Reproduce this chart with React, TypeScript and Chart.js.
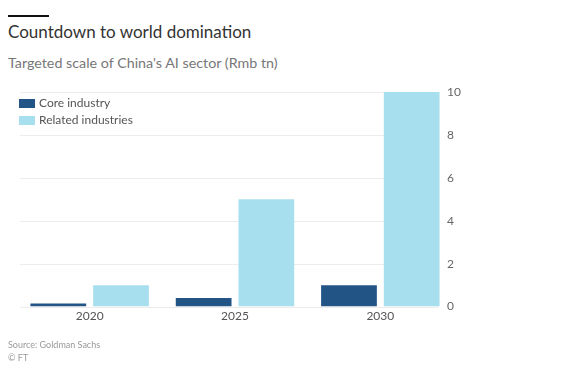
import React, { useEffect, useRef } from "react";
import { Chart, registerables } from "chart.js";

Chart.register(...registerables);

const categories = ["2020", "2025", "2030"];
const coreIndustry = [0.15, 0.4, 1.0];
const relatedIndustries = [1.0, 5.0, 10.0];
const seriesNames = ["Core industry", "Related industries"];
const yTicks = [0, 2, 4, 6, 8, 10];

const FONT = "Lato, 'Open Sans', sans-serif";
const COLORS = ["#225486", "#a8dfee"];

const customPlugin = {
  id: "ftExtras",
  beforeDatasetsDraw(chart: any) {
    const { ctx, chartArea, scales } = chart;
    const y = scales.y;
    ctx.save();
    ctx.strokeStyle = "#ececec";
    ctx.lineWidth = 1;
    for (const v of yTicks) {
      const py = Math.round(y.getPixelForValue(v)) + 0.5;
      ctx.beginPath();
      ctx.moveTo(chartArea.left + 3, py);
      ctx.lineTo(chartArea.right - 15, py);
      ctx.stroke();
    }
    ctx.fillStyle = "#666";
    ctx.font = `12px ${FONT}`;
    ctx.textBaseline = "middle";
    ctx.textAlign = "left";
    for (const v of yTicks) {
      ctx.fillText(String(v), chartArea.right - 6, y.getPixelForValue(v));
    }
    ctx.restore();
  },
  afterDatasetsDraw(chart: any) {
    const { ctx, chartArea } = chart;
    ctx.save();
    ctx.font = `12px ${FONT}`;
    ctx.textBaseline = "middle";
    chart.data.datasets.forEach((ds: any, i: number) => {
      const bx = chartArea.left + 2;
      const by = chartArea.top + 7 + i * 17;
      ctx.fillStyle = ds.backgroundColor;
      ctx.fillRect(bx, by, 16, 9);
      ctx.fillStyle = "#555";
      ctx.fillText(ds.label, bx + 20, by + 4.5);
    });
    ctx.restore();
  },
};

export default function App() {
  const ref = useRef<HTMLCanvasElement | null>(null);

  useEffect(() => {
    if (!ref.current) return;
    const chart = new Chart(ref.current, {
      type: "bar",
      data: {
        labels: categories,
        datasets: [
          {
            label: seriesNames[0],
            data: coreIndustry,
            backgroundColor: COLORS[0],
            borderWidth: 0,
          },
          {
            label: seriesNames[1],
            data: relatedIndustries,
            backgroundColor: COLORS[1],
            borderWidth: 0,
          },
        ],
      },
      options: {
        animation: false,
        responsive: false,
        maintainAspectRatio: false,
        layout: { padding: { left: 17, top: 92, right: 116, bottom: 48 } },
        datasets: {
          bar: { categoryPercentage: 0.863, barPercentage: 0.889 },
        },
        plugins: {
          tooltip: { enabled: false },
          legend: { display: false },
        },
        scales: {
          x: {
            offset: true,
            grid: { display: false, drawTicks: false },
            border: { display: false },
            ticks: {
              padding: 2,
              color: "#555",
              font: { family: FONT, size: 12 },
            },
          },
          y: {
            position: "right",
            min: 0,
            max: 10,
            afterBuildTicks: (axis: any) => {
              axis.ticks = yTicks.map((v) => ({ value: v }));
            },
            grid: { display: false, drawTicks: false },
            border: { display: false },
            ticks: { display: false },
          },
        },
      },
      plugins: [customPlugin],
    });
    return () => chart.destroy();
  }, []);

  return (
    <div style={{ position: "fixed", left: 0, top: 0, width: 569, height: 373, background: "#fff", fontFamily: FONT }}>
      <div style={{ position: "absolute", left: 8, top: 15, width: 41, height: 2, background: "#111" }} />
      <div style={{ position: "absolute", left: 8, top: 21, fontSize: 17, color: "#333", lineHeight: "22px", whiteSpace: "nowrap" }}>
        Countdown to world domination
      </div>
      <div style={{ position: "absolute", left: 8, top: 54, fontSize: 14.3, color: "#777", lineHeight: "18px", whiteSpace: "nowrap" }}>
        Targeted scale of China's AI sector (Rmb tn)
      </div>
      <canvas ref={ref} width={569} height={373} style={{ position: "absolute", left: 0, top: 0 }} />
      <div style={{ position: "absolute", left: 8, top: 339, fontSize: 9, color: "#999", lineHeight: "12px", whiteSpace: "nowrap" }}>
        Source: Goldman Sachs
      </div>
      <div style={{ position: "absolute", left: 8, top: 352, fontSize: 9, color: "#999", lineHeight: "12px", whiteSpace: "nowrap" }}>
        © FT
      </div>
    </div>
  );
}
